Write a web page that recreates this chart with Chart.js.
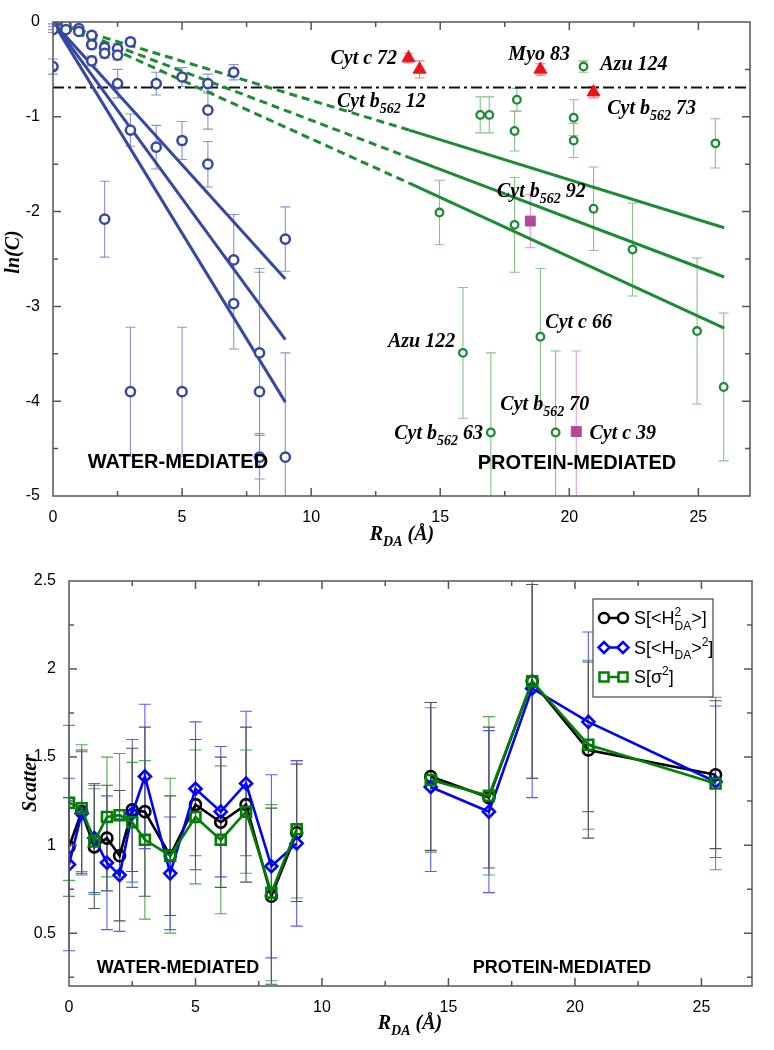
<!DOCTYPE html>
<html>
<head>
<meta charset="utf-8">
<script src="https://cdn.jsdelivr.net/npm/chart.js@4.4.1/dist/chart.umd.min.js"></script>
<style>
  body { margin: 0; background: #fff; }
  canvas { position: absolute; left: 0; }
  #topChart { top: 0; }
  #bottomChart { top: 560px; }
</style>
</head>
<body>
<canvas id="topChart" width="774" height="560"></canvas>
<canvas id="bottomChart" width="774" height="490"></canvas>
<script>
// ---- top panel: ln(C) vs R_DA ----
const waterR   = [0, 0, 0, 0.5, 0.5, 1, 1, 1.5, 1.5, 1.5, 2, 2, 2, 2.5, 2.5, 2.5, 3, 3, 3, 4, 4, 5, 5, 5, 6, 6, 6, 7, 7, 7, 8, 8, 8, 9, 9];
const waterLnC = [-0.05, -0.08, -0.47, -0.03, -0.08, -0.07, -0.10, -0.14, -0.24, -0.41, -0.27, -0.33, -2.08, -0.28, -0.35, -0.65,
                  -0.21, -1.14, -3.90, -0.65, -1.32, -0.58, -1.25, -3.90, -0.65, -0.93, -1.50, -0.53, -2.51, -2.97,
                  -3.49, -3.90, -4.59, -2.29, -4.59];
const waterErr = [0.03, 0.03, 0.08, 0.03, 0.03, 0.03, 0.03, 0.04, 0.04, 0.05, 0.05, 0.05, 0.40, 0.05, 0.05, 0.15,
                  0.04, 0.17, 0.68, 0.12, 0.23, 0.10, 0.20, 0.68, 0.10, 0.20, 0.24, 0.08, 0.48, 0.48,
                  0.85, 1.30, 0.23, 0.34, 1.10];

const proteinR   = [20.55, 16.55, 16.9, 17.97, 17.88, 20.17, 20.17, 25.66, 14.97, 17.88, 20.94, 22.45, 24.95, 25.98, 15.88, 18.88, 16.96, 19.47];
const proteinLnC = [-0.47, -0.98, -0.98, -0.82, -1.15, -1.01, -1.25, -1.28, -2.01, -2.14, -1.97, -2.40, -3.26, -3.85, -3.49, -3.32, -4.33, -4.33];
const proteinErr = [0.06, 0.19, 0.19, 0.12, 0.21, 0.19, 0.18, 0.26, 0.34, 0.50, 0.44, 0.49, 0.77, 0.78, 0.69, 0.72, 0.84, 0.86];

const redR   = [13.77, 14.2, 18.88, 20.94];
const redLnC = [-0.38, -0.50, -0.50, -0.74];
const redErr = [0.05, 0.09, 0.06, 0.06];

const purpleR   = [18.49, 20.27];
const purpleLnC = [-2.10, -4.32];
const purpleErr = [0.28, 0.85];

// fitted decay lines
const waterFitR = [0, 9];
const waterFits = [[0, -2.71], [0, -3.35], [0, -4.01]];
const proteinFitR = [0, 13.8, 26];
const proteinFits = [[0, -1.14, -2.17], [0, -1.43, -2.69], [0, -1.70, -3.23]];
const halfLnC = -0.69;

const topXTicks = [0, 5, 10, 15, 20, 25];
const topYTicks = [0, -1, -2, -3, -4, -5];

// ---- bottom panel: scatter ----
const scatWaterR = [0, 0.5, 1, 1.5, 2, 2.5, 3, 4, 5, 6, 7, 8, 9];
const scatProtR  = [14.3, 16.6, 18.31, 20.53, 25.56];

const sH2Water   = [0.99, 1.19, 0.99, 1.04, 0.94, 1.20, 1.19, 0.94, 1.23, 1.13, 1.23, 0.71, 1.07];
const sH2WaterE  = [0.28, 0.35, 0.35, 0.30, 0.37, 0.35, 0.48, 0.34, 0.37, 0.37, 0.44, 0.50, 0.39];
const sH2Prot    = [1.39, 1.27, 1.93, 1.54, 1.40];
const sH2ProtE   = [0.42, 0.40, 0.55, 0.50, 0.42];

const sHsqWater  = [0.89, 1.18, 1.04, 0.90, 0.83, 1.18, 1.39, 0.84, 1.32, 1.19, 1.35, 0.88, 1.01];
const sHsqWaterE = [0.49, 0.35, 0.31, 0.38, 0.32, 0.42, 0.41, 0.32, 0.38, 0.37, 0.41, 0.52, 0.47];
const sHsqProt   = [1.33, 1.19, 1.89, 1.70, 1.36];
const sHsqProtE  = [0.48, 0.46, 0.62, 0.51, 0.43];

const sSigWater  = [1.24, 1.21, 1.02, 1.16, 1.17, 1.13, 1.03, 0.94, 1.16, 1.03, 1.19, 0.73, 1.09];
const sSigWaterE = [0.44, 0.36, 0.30, 0.34, 0.35, 0.34, 0.45, 0.44, 0.38, 0.42, 0.35, 0.50, 0.39];
const sSigProt   = [1.37, 1.28, 1.93, 1.57, 1.35];
const sSigProtE  = [0.41, 0.45, 0.55, 0.48, 0.49];

const botXTicks = [0, 5, 10, 15, 20, 25];
const botYTicks = [0.5, 1, 1.5, 2, 2.5];

// text placed in data coordinates
const topLabels = [
    { text: 'Cyt c 72', x: 13.33, y: -0.37, align: 'right' },
    { text: 'Cyt b_{562} 12', x: 11.0, y: -0.82, align: 'left' },
    { text: 'Myo 83', x: 17.64, y: -0.33, align: 'left' },
    { text: 'Azu 124', x: 21.2, y: -0.43, align: 'left' },
    { text: 'Cyt b_{562} 73', x: 21.47, y: -0.90, align: 'left' },
    { text: 'Cyt b_{562} 92', x: 17.2, y: -1.77, align: 'left' },
    { text: 'Cyt c 66', x: 19.07, y: -3.15, align: 'left' },
    { text: 'Azu 122', x: 15.58, y: -3.35, align: 'right' },
    { text: 'Cyt b_{562} 70', x: 17.33, y: -4.02, align: 'left' },
    { text: 'Cyt b_{562} 63', x: 13.22, y: -4.32, align: 'left' },
    { text: 'Cyt c 39', x: 20.78, y: -4.32, align: 'left' }
];
const topRegions = [
    { text: 'WATER-MEDIATED', x: 4.84, y: -4.63 },
    { text: 'PROTEIN-MEDIATED', x: 20.3, y: -4.64 }
];
const botRegions = [
    { text: 'WATER-MEDIATED', x: 4.31, y: 0.31 },
    { text: 'PROTEIN-MEDIATED', x: 19.49, y: 0.31 }
];

const SERIF = '"Liberation Serif", "DejaVu Serif", serif';
const SANS = '"Liberation Sans", Arial, sans-serif';

// text with _{sub} and ^{sup}; y is the vertical centre of the main text
function drawRich(ctx, str, x, y, size, family, style, align, color) {
    const parts = [];
    const re = /([_^])\{([^}]*)\}/g;
    let last = 0, m;
    while ((m = re.exec(str))) {
        if (m.index > last) parts.push({ t: str.slice(last, m.index), k: '' });
        parts.push({ t: m[2], k: m[1] });
        last = re.lastIndex;
    }
    if (last < str.length) parts.push({ t: str.slice(last), k: '' });

    const big = style + ' ' + size + 'px ' + family;
    const small = style + ' ' + Math.round(size * 0.68) + 'px ' + family;
    let cx = 0;
    const placed = [];
    parts.forEach((p, i) => {
        ctx.font = p.k ? small : big;
        const w = ctx.measureText(p.t).width;
        const prev = parts[i - 1];
        let px = cx;
        if (p.k && prev && prev.k && prev.k !== p.k) {
            px = placed[i - 1].x;
            cx = Math.max(cx, px + w);
        } else {
            cx = px + w;
        }
        placed.push({ x: px, font: ctx.font, t: p.t, k: p.k });
    });
    const x0 = align === 'center' ? x - cx / 2 : align === 'right' ? x - cx : x;
    const base = y + size * 0.35;
    ctx.save();
    ctx.fillStyle = color || '#000';
    ctx.textAlign = 'left';
    ctx.textBaseline = 'alphabetic';
    placed.forEach(p => {
        ctx.font = p.font;
        const dy = p.k === '_' ? size * 0.3 : p.k === '^' ? -size * 0.45 : 0;
        ctx.fillText(p.t, x0 + p.x, base + dy);
    });
    ctx.restore();
}

// frame with inward major/minor ticks on all four sides
function frameTicks(xMajor, yMajor, xMinorStep, yMinorStep) {
    return {
        id: 'frameTicks',
        afterDatasetsDraw(chart) {
            const { ctx, chartArea: a, scales: { x, y } } = chart;
            ctx.save();
            ctx.strokeStyle = '#555';
            ctx.lineWidth = 1.5;
            ctx.strokeRect(a.left, a.top, a.right - a.left, a.bottom - a.top);
            ctx.beginPath();
            const xs = [];
            xMajor.forEach(v => { xs.push([v, 8]); xs.push([v + xMinorStep, 5]); xs.push([v - xMinorStep, 5]); });
            xs.forEach(([v, len]) => {
                if (v <= x.min || v >= x.max) return;
                const px = x.getPixelForValue(v);
                ctx.moveTo(px, a.bottom); ctx.lineTo(px, a.bottom - len);
                ctx.moveTo(px, a.top); ctx.lineTo(px, a.top + len);
            });
            const ys = [];
            yMajor.forEach(v => { ys.push([v, 8]); ys.push([v + yMinorStep, 5]); ys.push([v - yMinorStep, 5]); });
            ys.forEach(([v, len]) => {
                if (v <= y.min || v >= y.max) return;
                const py = y.getPixelForValue(v);
                ctx.moveTo(a.left, py); ctx.lineTo(a.left + len, py);
                ctx.moveTo(a.right, py); ctx.lineTo(a.right - len, py);
            });
            ctx.stroke();
            ctx.restore();
        }
    };
}

// vertical error bars read from dataset.errors
const errorBars = {
    id: 'errorBars',
    beforeDatasetsDraw(chart) {
        const { ctx, chartArea: a } = chart;
        const ys = chart.scales.y;
        ctx.save();
        ctx.beginPath();
        ctx.rect(a.left - 10, a.top, a.right - a.left + 20, a.bottom - a.top);
        ctx.clip();
        chart.data.datasets.forEach((ds, i) => {
            if (!ds.errors) return;
            const meta = chart.getDatasetMeta(i);
            ctx.strokeStyle = ds.errorColor;
            ctx.lineWidth = 1.1;
            ds.data.forEach((p, j) => {
                if (p.y == null || ds.errors[j] == null) return;
                const e = ds.errors[j];
                const px = meta.data[j].x;
                const y1 = ys.getPixelForValue(p.y + e);
                const y2 = ys.getPixelForValue(p.y - e);
                const c = ds.capHalf;
                ctx.beginPath();
                ctx.moveTo(px, y1); ctx.lineTo(px, y2);
                ctx.moveTo(px - c, y1); ctx.lineTo(px + c, y1);
                ctx.moveTo(px - c, y2); ctx.lineTo(px + c, y2);
                ctx.stroke();
            });
        });
        ctx.restore();
    }
};

function pts(xs, ys) {
    return xs.map((v, i) => ({ x: v, y: ys[i] }));
}

// ---------------- top chart ----------------
const topTexts = {
    id: 'topTexts',
    afterDraw(chart) {
        const { ctx, scales: { x, y } } = chart;
        topLabels.forEach(l => {
            drawRich(ctx, l.text, x.getPixelForValue(l.x), y.getPixelForValue(l.y), 20, SERIF, 'bold italic', l.align);
        });
        topRegions.forEach(l => {
            drawRich(ctx, l.text, x.getPixelForValue(l.x), y.getPixelForValue(l.y), 20, SANS, 'bold', 'center');
        });
        drawRich(ctx, 'R_{DA} (Å)', 402, 533, 20, SERIF, 'bold italic', 'center');
        ctx.save();
        ctx.translate(12, 252);
        ctx.rotate(-Math.PI / 2);
        drawRich(ctx, 'ln(C)', 0, 0, 20, SERIF, 'bold italic', 'center');
        ctx.restore();
    }
};

const topDatasets = [
    {
        data: pts(redR, redLnC), errors: redErr, errorColor: '#f07a78', capHalf: 5,
        pointStyle: 'triangle', pointRadius: 7.5, backgroundColor: '#e8141c', borderColor: '#e8141c', borderWidth: 1
    },
    {
        data: pts(purpleR, purpleLnC), errors: purpleErr, errorColor: '#e2a0d6', capHalf: 5,
        pointStyle: 'rect', pointRadius: 7, backgroundColor: '#b2489f', borderColor: '#b2489f', borderWidth: 1
    },
    {
        data: pts(proteinR, proteinLnC), errors: proteinErr, errorColor: '#8cc08e', capHalf: 5,
        pointStyle: 'circle', pointRadius: 3.8, backgroundColor: '#fff', borderColor: '#1d8b36', borderWidth: 2.3
    },
    {
        data: pts(waterR, waterLnC), errors: waterErr, errorColor: '#8a93d2', capHalf: 5,
        pointStyle: 'circle', pointRadius: 4.6, backgroundColor: '#fff', borderColor: '#3648a2', borderWidth: 2.5
    }
];
waterFits.forEach(f => {
    topDatasets.push({
        data: pts(waterFitR, f), showLine: true, pointRadius: 0,
        borderColor: '#3648a2', borderWidth: 3, order: 5
    });
});
proteinFits.forEach(f => {
    topDatasets.push({
        data: pts(proteinFitR, f), showLine: true, pointRadius: 0,
        borderColor: '#1d8b36', borderWidth: 3, order: 5,
        segment: { borderDash: ctx => ctx.p0DataIndex === 0 ? [8, 5] : undefined }
    });
});
topDatasets.push({
    data: [{ x: 0, y: halfLnC }, { x: 27, y: halfLnC }], showLine: true, pointRadius: 0,
    borderColor: '#111', borderWidth: 2, borderDash: [11, 4, 3, 4], order: 6
});

new Chart(document.getElementById('topChart'), {
    type: 'scatter',
    data: { datasets: topDatasets },
    options: {
        responsive: false,
        animation: false,
        layout: { padding: { top: 22, right: 24, left: 0, bottom: 0 } },
        plugins: { legend: { display: false }, tooltip: { enabled: false } },
        scales: {
            x: {
                type: 'linear', min: 0, max: 27,
                afterBuildTicks: s => { s.ticks = topXTicks.map(v => ({ value: v })); },
                afterFit: s => { s.height = 64; },
                grid: { display: false }, border: { display: false },
                ticks: { color: '#000', padding: 4, maxRotation: 0, font: { family: SANS, size: 16 }, callback: v => String(v) }
            },
            y: {
                min: -5, max: 0,
                afterBuildTicks: s => { s.ticks = topYTicks.map(v => ({ value: v })); },
                afterFit: s => { s.width = 53; },
                grid: { display: false }, border: { display: false },
                ticks: { color: '#000', padding: 5, font: { family: SANS, size: 16 }, callback: v => String(v) }
            }
        }
    },
    plugins: [errorBars, frameTicks(topXTicks, topYTicks, 2.5, 0.5), topTexts]
});

// ---------------- bottom chart ----------------
function joinRegions(wy, py) {
    return pts(scatWaterR, wy).concat([{ x: 11.5, y: null }], pts(scatProtR, py));
}
function joinErr(we, pe) {
    return we.concat([null], pe);
}

const legendItems = [
    { text: 'S[<H^{2}_{DA}>]', color: '#000', style: 'circle' },
    { text: 'S[<H_{DA}>^{2}]', color: '#0000ff', style: 'rectRot' },
    { text: 'S[σ^{2}]', color: '#008000', style: 'rect' }
];

function marker(ctx, style, x, y, color) {
    ctx.save();
    ctx.strokeStyle = color;
    ctx.fillStyle = '#fff';
    ctx.lineWidth = 2.5;
    ctx.beginPath();
    if (style === 'circle') ctx.arc(x, y, 5, 0, Math.PI * 2);
    else if (style === 'rectRot') { ctx.moveTo(x - 5.5, y); ctx.lineTo(x, y - 5.5); ctx.lineTo(x + 5.5, y); ctx.lineTo(x, y + 5.5); ctx.closePath(); }
    else ctx.rect(x - 4.5, y - 4.5, 9, 9);
    ctx.fill();
    ctx.stroke();
    ctx.restore();
}

const bottomTexts = {
    id: 'bottomTexts',
    afterDraw(chart) {
        const { ctx, scales: { x, y } } = chart;
        botRegions.forEach(l => {
            drawRich(ctx, l.text, x.getPixelForValue(l.x), y.getPixelForValue(l.y), 18, SANS, 'bold', 'center');
        });
        drawRich(ctx, 'R_{DA} (Å)', 410, 462, 20, SERIF, 'bold italic', 'center');
        ctx.save();
        ctx.translate(29, 223);
        ctx.rotate(-Math.PI / 2);
        drawRich(ctx, 'Scatter', 0, 0, 20, SERIF, 'bold italic', 'center');
        ctx.restore();

        // legend box
        ctx.save();
        ctx.fillStyle = '#fff';
        ctx.fillRect(593, 39, 120, 98);
        ctx.strokeStyle = '#555';
        ctx.lineWidth = 1.3;
        ctx.strokeRect(593, 39, 120, 98);
        legendItems.forEach((it, i) => {
            const ly = 58 + i * 29.5;
            ctx.strokeStyle = it.color;
            ctx.lineWidth = 2.5;
            ctx.beginPath();
            ctx.moveTo(604, ly); ctx.lineTo(623, ly);
            ctx.stroke();
            marker(ctx, it.style, 604, ly, it.color);
            marker(ctx, it.style, 623, ly, it.color);
            drawRich(ctx, it.text, 634, ly, 18, SANS, 'normal', 'left');
        });
        ctx.restore();
    }
};

new Chart(document.getElementById('bottomChart'), {
    type: 'scatter',
    data: {
        datasets: [
            {
                data: joinRegions(sSigWater, sSigProt), errors: joinErr(sSigWaterE, sSigProtE),
                errorColor: '#4caf4c', capHalf: 6, showLine: true, order: 1,
                pointStyle: 'rect', pointRadius: 7, backgroundColor: 'rgba(255,255,255,0)',
                borderColor: '#008000', borderWidth: 2.6
            },
            {
                data: joinRegions(sHsqWater, sHsqProt), errors: joinErr(sHsqWaterE, sHsqProtE),
                errorColor: '#5a5aff', capHalf: 6, showLine: true, order: 2,
                pointStyle: 'rectRot', pointRadius: 6, backgroundColor: 'rgba(255,255,255,0)',
                borderColor: '#0000ff', borderWidth: 2.6
            },
            {
                data: joinRegions(sH2Water, sH2Prot), errors: joinErr(sH2WaterE, sH2ProtE),
                errorColor: '#555', capHalf: 6, showLine: true, order: 3,
                pointStyle: 'circle', pointRadius: 5.5, backgroundColor: 'rgba(255,255,255,0)',
                borderColor: '#000', borderWidth: 2.6
            }
        ]
    },
    options: {
        responsive: false,
        animation: false,
        spanGaps: false,
        layout: { padding: { top: 21, right: 22, left: 0, bottom: 0 } },
        plugins: { legend: { display: false }, tooltip: { enabled: false } },
        scales: {
            x: {
                type: 'linear', min: 0, max: 27,
                afterBuildTicks: s => { s.ticks = botXTicks.map(v => ({ value: v })); },
                afterFit: s => { s.height = 64; },
                grid: { display: false }, border: { display: false },
                ticks: { color: '#000', padding: 4, maxRotation: 0, font: { family: SANS, size: 16 }, callback: v => String(v) }
            },
            y: {
                min: 0.2, max: 2.5,
                afterBuildTicks: s => { s.ticks = botYTicks.map(v => ({ value: v })); },
                afterFit: s => { s.width = 69; },
                grid: { display: false }, border: { display: false },
                ticks: { color: '#000', padding: 5, font: { family: SANS, size: 16 }, callback: v => String(v) }
            }
        }
    },
    plugins: [errorBars, frameTicks(botXTicks, botYTicks, 2.5, 0.25), bottomTexts]
});
</script>
</body>
</html>
